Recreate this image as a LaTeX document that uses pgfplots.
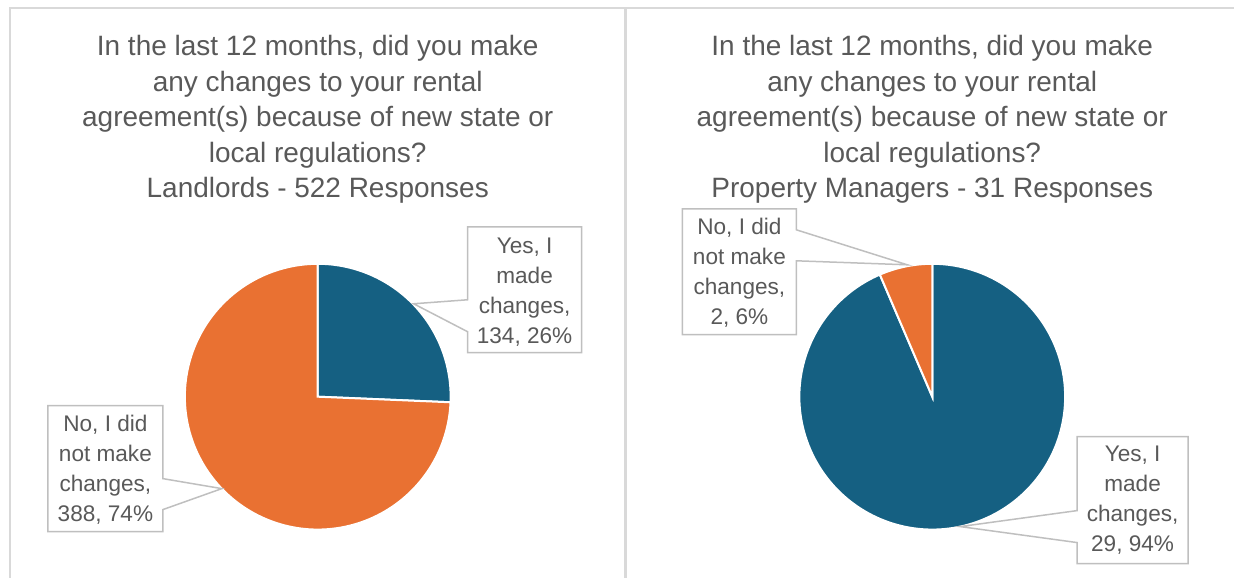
\documentclass[border=0pt]{standalone}
\usepackage{pgfplots}
\pgfplotsset{compat=1.18}
\usepackage{pgfplotstable}
\usepackage{fontspec}
\setmainfont{Liberation Sans}
\definecolor{pblue}{HTML}{156082}
\definecolor{porange}{HTML}{E97132}
\definecolor{txt}{HTML}{595959}
\definecolor{frm}{HTML}{D9D9D9}
\definecolor{callout}{HTML}{BFBFBF}

\pgfplotstableread{
group yes no
landlords 134 388
managers 29 2
}\pietable
\pgfplotstablegetelem{0}{yes}\of\pietable \let\LYes\pgfplotsretval
\pgfplotstablegetelem{0}{no}\of\pietable \let\LNo\pgfplotsretval
\pgfplotstablegetelem{1}{yes}\of\pietable \let\RYes\pgfplotsretval
\pgfplotstablegetelem{1}{no}\of\pietable \let\RNo\pgfplotsretval
\pgfmathsetmacro\LA{-90+360*(\LYes/(\LYes+\LNo))}
\pgfmathsetmacro\RA{-90+360*(\RYes/(\RYes+\RNo))}

\tikzset{
  ttl/.style={align=center, text=txt, font=\fontsize{14}{17.75}\selectfont},
  lbl/.style={align=center, text=txt, font=\fontsize{11.3}{15}\selectfont},
}

\begin{document}
\begin{tikzpicture}
\begin{axis}[
  hide axis, scale only axis, width=617.5pt, height=289pt,
  xmin=0, xmax=1235, ymin=0, ymax=578, y dir=reverse,
  clip=false,
]
\path (rel axis cs:0,0) rectangle (rel axis cs:1,1);
% frames
\draw[frm, line width=1pt] (axis cs:10,578) -- (axis cs:10,8) -- (axis cs:1235,8);
\draw[frm, line width=2pt] (axis cs:626,8) -- (axis cs:626,578);

% left pie
\addplot[fill=pblue, draw=white, line width=1pt, domain=-90:\LA, samples=80, variable=\t]
  ({318+133*cos(t)}, {397+133*sin(t)}) -- (axis cs:318,397) -- cycle;
\addplot[fill=porange, draw=white, line width=1pt, domain=\LA:270, samples=150, variable=\t]
  ({318+133*cos(t)}, {397+133*sin(t)}) -- (axis cs:318,397) -- cycle;

% right pie
\addplot[fill=pblue, draw=white, line width=1pt, domain=-90:\RA, samples=200, variable=\t]
  ({933+133*cos(t)}, {397+133*sin(t)}) -- (axis cs:933,397) -- cycle;
\addplot[fill=porange, draw=white, line width=1pt, domain=\RA:270, samples=30, variable=\t]
  ({933+133*cos(t)}, {397+133*sin(t)}) -- (axis cs:933,397) -- cycle;

% titles
\node[ttl] at (axis cs:318,119.5)
  {In the last 12 months, did you make\\any changes to your rental\\agreement(s) because of new state or\\local regulations?\\Landlords - 522 Responses};
\node[ttl] at (axis cs:933,119.5)
  {In the last 12 months, did you make\\any changes to your rental\\agreement(s) because of new state or\\local regulations?\\Property Managers - 31 Responses};

% callouts
\draw[callout, line width=0.75pt, fill=white] (axis cs:468,227) -- (axis cs:582,227) -- (axis cs:582,353) -- (axis cs:468,353) -- (axis cs:468,332) -- (axis cs:414,304) -- (axis cs:468,300) -- cycle;
\node[lbl] at (axis cs:525,292) {Yes, I\\made\\changes,\\134, 26\%};

\draw[callout, line width=0.75pt, fill=white] (axis cs:48,406) -- (axis cs:163,406) -- (axis cs:163,479) -- (axis cs:222,489) -- (axis cs:163,510) -- (axis cs:163,532) -- (axis cs:48,532) -- cycle;
\node[lbl] at (axis cs:105.5,470) {No, I did\\not make\\changes,\\388, 74\%};

\draw[callout, line width=0.75pt, fill=white] (axis cs:683,209) -- (axis cs:797,209) -- (axis cs:797,230) -- (axis cs:908,265) -- (axis cs:797,261) -- (axis cs:797,335) -- (axis cs:683,335) -- cycle;
\node[lbl] at (axis cs:740,273) {No, I did\\not make\\changes,\\2, 6\%};

\draw[callout, line width=0.75pt, fill=white] (axis cs:1078,437) -- (axis cs:1189,437) -- (axis cs:1189,564) -- (axis cs:1078,564) -- (axis cs:1078,543) -- (axis cs:961,527) -- (axis cs:1078,511) -- cycle;
\node[lbl] at (axis cs:1133.5,501) {Yes, I\\made\\changes,\\29, 94\%};
\end{axis}
\end{tikzpicture}
\end{document}
